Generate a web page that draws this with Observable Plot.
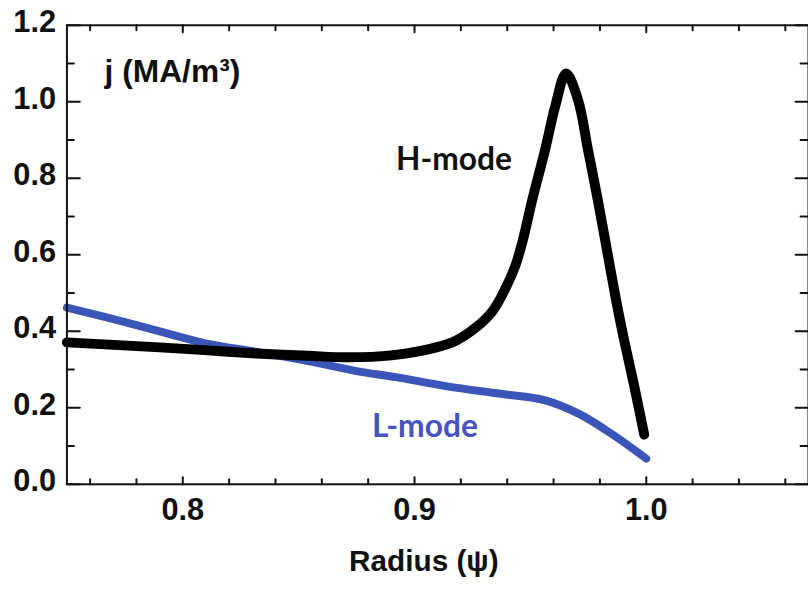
<!DOCTYPE html>
<html><head><meta charset="utf-8">
<script src="https://cdn.jsdelivr.net/npm/d3@7"></script>
<script src="https://cdn.jsdelivr.net/npm/@observablehq/plot@0.6"></script>
<style>
html,body{margin:0;padding:0;background:#fff;overflow:hidden;width:808px;height:590px;}
#chart{width:808px;height:590px;overflow:hidden;}
</style></head><body><div id="chart"></div>
<script>
// H-mode current density profile
const hModeX = [0.75, 0.79, 0.811, 0.832, 0.854, 0.871, 0.89, 0.9094, 0.918, 0.9265, 0.9338, 0.9393, 0.9436, 0.9466, 0.9509, 0.9564, 0.9607, 0.9654, 0.9705, 0.9748, 0.979, 0.9829, 0.9868, 0.9902, 0.9949, 0.9991];
const hModeY = [0.371, 0.358, 0.350, 0.342, 0.336, 0.332, 0.337, 0.358, 0.376, 0.410, 0.454, 0.513, 0.573, 0.635, 0.746, 0.876, 0.988, 1.074, 1.006, 0.876, 0.746, 0.617, 0.487, 0.384, 0.254, 0.130];
// L-mode current density profile
const lModeX = [0.75, 0.768, 0.79, 0.811, 0.832, 0.854, 0.875, 0.892, 0.914, 0.938, 0.956, 0.971, 0.985, 1.0];
const lModeY = [0.462, 0.435, 0.400, 0.367, 0.346, 0.322, 0.296, 0.280, 0.256, 0.236, 0.220, 0.184, 0.132, 0.067];

const yTickValues = [0, 0.2, 0.4, 0.6, 0.8, 1.0, 1.2];
const yMinorValues = [0.1, 0.3, 0.5, 0.7, 0.9, 1.1];
const xTickValues = [0.8, 0.9, 1.0];
const xMinorValues = [0.76, 0.78, 0.82, 0.84, 0.86, 0.88, 0.92, 0.94, 0.96, 0.98, 1.02, 1.04, 1.06];

const seriesNames = ["H-mode", "L-mode"];
const seriesLabelX = [0.892, 0.8816];
const seriesLabelY = [0.822, 0.124];

const xTitle = "Radius (ψ)";
const yTitle = "j (MA/m³)";

const hTable = hModeX.map((x, i) => ({x, y: hModeY[i]}));
const lTable = lModeX.map((x, i) => ({x, y: lModeY[i]}));
const labelTable = seriesNames.map((name, i) => ({name, x: seriesLabelX[i], y: seriesLabelY[i]}));

const tickShape = {draw(ctx, l) { ctx.moveTo(0, 0); ctx.lineTo(0, -l); }};
const tickFont = "'Liberation Sans', Arial, sans-serif";
const blueLine = "#3a56b8";
const blueText = "#4653c4";

function ticks(values, side, len) {
  const rot = {left: 90, bottom: 0, top: 180, right: 270}[side];
  const ch = (side === "left" || side === "right") ? {y: d => d} : {x: d => d};
  return Plot.vector(values, {...ch, frameAnchor: side, rotate: rot, length: len, anchor: "start", shape: tickShape, stroke: "#111", strokeWidth: 2});
}

const chart = Plot.plot({
  width: 815,
  height: 590,
  marginLeft: 67,
  marginRight: 0,
  marginTop: 25,
  marginBottom: 102,
  style: {background: "#fff", fontFamily: tickFont, color: "#111"},
  x: {domain: [0.75, 1.07], axis: null},
  y: {domain: [0, 1.2], axis: null},
  marks: [
    Plot.line(lTable, {x: "x", y: "y", stroke: blueLine, strokeWidth: 8, curve: "catmull-rom", strokeLinecap: "round"}),
    Plot.line(hTable, {x: "x", y: "y", stroke: "#000", strokeWidth: 10, curve: "catmull-rom", strokeLinecap: "round", strokeLinejoin: "round"}),
    Plot.frame({stroke: "#111", strokeWidth: 2}),
    ticks(yTickValues, "left", 13),
    ticks(yMinorValues, "left", 7),
    ticks(yTickValues, "right", 13),
    ticks(yMinorValues, "right", 8),
    ticks(xTickValues, "bottom", 7),
    ticks(xMinorValues, "bottom", 5),
    ticks(xTickValues, "top", 7),
    ticks(xMinorValues, "top", 5),
    Plot.text(yTickValues, {y: d => d, frameAnchor: "left", text: d => d.toFixed(1), textAnchor: "end", dx: -11, dy: -3, fontSize: 31, fontWeight: "bold", fill: "#111"}),
    Plot.text(xTickValues, {x: d => d, frameAnchor: "bottom", text: d => d.toFixed(1), lineAnchor: "top", dy: 14, fontSize: 31, fontWeight: "bold", fill: "#111"}),
    Plot.text([xTitle], {frameAnchor: "bottom", text: d => d, lineAnchor: "bottom", dy: 87, dx: -14, fontSize: 30, fontWeight: "bold", fill: "#111"}),
    Plot.text([yTitle], {frameAnchor: "top-left", text: d => d, textAnchor: "start", lineAnchor: "bottom", dx: 38, dy: 57, fontSize: 32, fontWeight: "bold", fill: "#111"}),
    Plot.text(labelTable, {x: "x", y: "y", text: "name", textAnchor: "start", lineAnchor: "bottom", fontSize: 32, fontWeight: "bold", fontFamily: "Lato, 'Open Sans', sans-serif", fill: d => d.name === "L-mode" ? blueText : "#111"})
  ]
});
document.getElementById("chart").appendChild(chart);
</script>
</body></html>
